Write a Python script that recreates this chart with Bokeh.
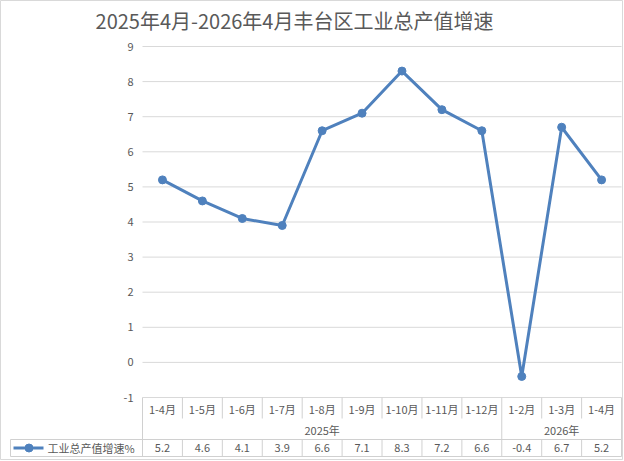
from bokeh.plotting import figure
from bokeh.models import Range1d, ColumnDataSource
from bokeh.core.properties import value
from bokeh.embed import file_html
from bokeh.resources import INLINE

# ---------------- data ----------------
title_text = "2025年4月-2026年4月丰台区工业总产值增速"
months = ["1-4月", "1-5月", "1-6月", "1-7月", "1-8月", "1-9月", "1-10月",
          "1-11月", "1-12月", "1-2月", "1-3月", "1-4月"]
growth = [5.2, 4.6, 4.1, 3.9, 6.6, 7.1, 8.3, 7.2, 6.6, -0.4, 6.7, 5.2]
years = ["2025年", "2026年"]
year_counts = [9, 3]
y_ticks = [-1, 0, 1, 2, 3, 4, 5, 6, 7, 8, 9]
series_name = "工业总产值增速%"

# ---------------- layout (pixels -> data units) ----------------
W, H = 623, 460
CAT_W = 39.92          # px per category
X0_PX = 161.96         # px of first category centre
Y_TOP_PX = 46.0        # px of top tick
PX_PER_UNIT = 35.1     # px per y unit
Y_MAX = max(y_ticks)
Y_MIN = min(y_ticks)


def xd(px):
    return (px - X0_PX) / CAT_W


def yd(py):
    return Y_MAX - (py - Y_TOP_PX) / PX_PER_UNIT


FONT = value("Noto Sans CJK SC")
TXT = "#595959"
GRID = "#d9d9d9"
TBL = "#d0d0d0"
BLUE = "#4f81bd"

p = figure(width=W, height=H, x_range=Range1d(xd(0), xd(W)),
           y_range=Range1d(yd(H), yd(0)), x_axis_type=None, y_axis_type=None,
           toolbar_location=None, output_backend="svg",
           min_border=0, min_border_left=0, min_border_right=0,
           min_border_top=0, min_border_bottom=0,
           outline_line_color=GRID, outline_line_width=1,
           background_fill_color="white", border_fill_color="white")
p.grid.visible = False

n = len(months)
idx = list(range(n))
left_edge = -0.5
right_edge = n - 0.5

# gridlines (and axis line at the minimum)
p.segment(x0=[left_edge] * len(y_ticks), x1=[right_edge] * len(y_ticks),
          y0=y_ticks, y1=y_ticks, line_color=GRID, line_width=1)

# y tick labels
p.text(x=[xd(133)] * len(y_ticks), y=y_ticks, text=[str(t) for t in y_ticks],
       text_font=FONT, text_font_size="11px", text_color=TXT,
       text_align="right", text_baseline="middle")

# ---------------- table ----------------
row1_bottom = yd(418)
row3_top = yd(439)
row3_bottom = yd(456)
legend_left = xd(10)

# group boundaries
group_bounds = [left_edge]
acc = 0
for c in year_counts:
    acc += c
    group_bounds.append(acc - 0.5)

inner = [k - 0.5 for k in range(1, n) if (k - 0.5) not in group_bounds]
p.segment(x0=inner, x1=inner, y0=[Y_MIN] * len(inner), y1=[row1_bottom] * len(inner),
          line_color=TBL, line_width=1)
p.segment(x0=group_bounds, x1=group_bounds, y0=[Y_MIN] * len(group_bounds),
          y1=[row3_top] * len(group_bounds), line_color=TBL, line_width=1)
data_v = [legend_left] + [k - 0.5 for k in range(0, n + 1)]
p.segment(x0=data_v, x1=data_v, y0=[row3_top] * len(data_v), y1=[row3_bottom] * len(data_v),
          line_color=TBL, line_width=1)
p.segment(x0=[legend_left, legend_left], x1=[right_edge, right_edge],
          y0=[row3_top, row3_bottom], y1=[row3_top, row3_bottom],
          line_color=TBL, line_width=1)

# month labels
p.text(x=idx, y=[yd(408)] * n, text=months, text_font=FONT, text_font_size="11px",
       text_color=TXT, text_align="center", text_baseline="middle")
# year labels
year_centers = []
acc = 0
for c in year_counts:
    year_centers.append(acc + (c - 1) / 2)
    acc += c
p.text(x=year_centers, y=[yd(429)] * len(years), text=years, text_font=FONT,
       text_font_size="11px", text_color=TXT, text_align="center", text_baseline="middle")
# values row
p.text(x=idx, y=[yd(447.5)] * n, text=[str(v) for v in growth], text_font=FONT,
       text_font_size="11px", text_color=TXT, text_align="center", text_baseline="middle")

# legend key in table
p.line(x=[xd(13), xd(43)], y=[yd(447.5)] * 2, line_color=BLUE, line_width=3)
p.scatter(x=[xd(28.5)], y=[yd(447.5)], size=8, color=BLUE)
p.text(x=[xd(47)], y=[yd(447.5)], text=[series_name], text_font=FONT,
       text_font_size="11px", text_color=TXT, text_align="left", text_baseline="middle")

# ---------------- series ----------------
src = ColumnDataSource(dict(x=idx, y=growth))
p.line(x="x", y="y", source=src, line_color=BLUE, line_width=3, line_join="round")
p.scatter(x="x", y="y", source=src, size=8, color=BLUE)

# ---------------- title ----------------
p.text(x=[xd(294)], y=[yd(20)], text=[title_text], text_font=FONT,
       text_font_size="20px", text_color=TXT, text_align="center",
       text_baseline="middle")

open("out.html", "w").write(file_html(p, INLINE))
